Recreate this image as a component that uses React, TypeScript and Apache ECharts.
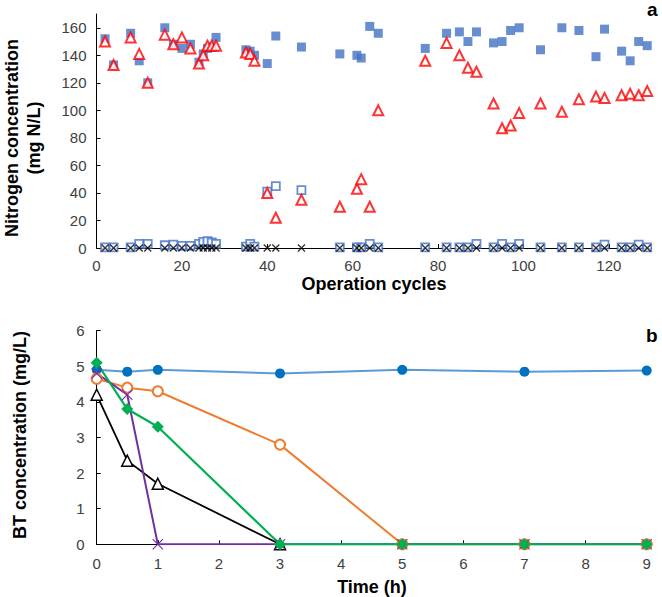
import React, { useEffect, useRef } from 'react';
import * as echarts from 'echarts';

// ---- Panel a: nitrogen over operation cycles ----
const cycles = [2, 4, 8, 10, 12, 16, 18, 20, 22, 24, 25, 26, 27, 28, 35, 36, 37, 40, 42, 48, 57, 61, 62, 64, 66, 77, 82, 85, 87, 89, 93, 95, 97, 99, 104, 109, 113, 117, 119, 123, 125, 127, 129];
const influentN = [152, 133, 156, 136, 120, 160, 148, 145, 148, 135, 141, 145, 146, 153, 144, 143, 140, 134, 154, 146, 141, 140, 138, 161, 156, 145, 156, 157, 150, 157, 149, 150, 158, 160, 144, 160, 158, 139, 159, 143, 136, 150, 147];
const effluentOpen = [0.5, 0.5, 0.5, 3, 3, 2, 2.5, 1.5, 1.5, 3, 4.5, 5, 4, 3, 1, 3, 1, 41, 45, 42, 0.5, 0.5, 0.5, 3, 0.5, 0.5, 0.5, 0.5, 0.5, 3, 0.5, 3, 0.5, 3, 0.5, 0.5, 0.5, 0.5, 2.5, 0.5, 0.5, 2.5, 0.5];
const effluentTri = [150, 133, 153, 141, 120, 155, 148, 153, 145, 134, 140, 147, 147, 147, 142, 141, 136, 40, 22, 35, 30, 43, 50, 30, 100, 136, 149, 140, 131, 128, 105, 87, 89, 98, 105, 99, 108, 110, 109, 111, 112, 111, 114];
const effluentX = [0, 0, 0, 0, 0, 0, 0, 0, 0, 0, 0, 0, 0, 0, 0, 0, 0, 0, 0, 0, 0, 0, 0, 0, 0, 0, 0, 0, 0, 0, 0, 0, 0, 0, 0, 0, 0, 0, 0, 0, 0, 0, 0];
const yTicksA = [0, 20, 40, 60, 80, 100, 120, 140, 160];
const xTicksA = [0, 20, 40, 60, 80, 100, 120];

// ---- Panel b: BT over time ----
const timeH = [0, 0.5, 1, 3, 5, 7, 9];
const btBlue = [4.9, 4.85, 4.9, 4.8, 4.9, 4.85, 4.88];
const btOrange = [4.65, 4.4, 4.3, 2.8, 0, 0, 0];
const btBlack = [4.2, 2.35, 1.7, 0];
const btPurple = [4.8, 4.2, 0, 0, 0, 0, 0];
const btGreen = [5.1, 3.8, 3.3, 0, 0, 0, 0];

const FONT = 'Arial, "Liberation Sans", sans-serif';
const X_BOLD = 'path://M0,1.2L1.2,0L5,3.8L8.8,0L10,1.2L6.2,5L10,8.8L8.8,10L5,6.2L1.2,10L0,8.8L3.8,5Z';
const X_THIN = 'path://M0,0.7L0.7,0L5,4.3L9.3,0L10,0.7L5.7,5L10,9.3L9.3,10L5,5.7L0.7,10L0,9.3L4.3,5Z';

const pairs = (xs: number[], ys: number[]) => ys.map((y, i) => [xs[i], y]);

export default function App() {
  const ref = useRef<HTMLDivElement>(null);
  useEffect(() => {
    document.body.style.margin = '0';
    if (!ref.current) return;
    const chart = echarts.init(ref.current, undefined, { renderer: 'svg' });
    const axisLine = { show: true, lineStyle: { color: '#000', width: 1 } };
    const tickLabel = { color: '#404040', fontSize: 15, fontFamily: FONT };
    chart.setOption({
      animation: false,
      backgroundColor: '#fff',
      grid: [
        { left: 96.5, top: 14, width: 555, height: 234 },
        { left: 96.7, top: 330.7, width: 550, height: 213.6 },
      ],
      xAxis: [
        {
          gridIndex: 0, type: 'value', min: 0, max: 130, interval: 20,
          axisLine, splitLine: { show: false },
          axisTick: { inside: true, length: 4, lineStyle: { color: '#000' }, customValues: xTicksA },
          axisLabel: { ...tickLabel, margin: 10, customValues: xTicksA },
        },
        {
          gridIndex: 1, type: 'value', min: 0, max: 9, interval: 1,
          axisLine, splitLine: { show: false },
          axisTick: { inside: true, length: 4, lineStyle: { color: '#000' } },
          axisLabel: { ...tickLabel, margin: 12 },
        },
      ],
      yAxis: [
        {
          gridIndex: 0, type: 'value', min: 0, max: 170, interval: 20,
          axisLine, splitLine: { show: false },
          axisTick: { show: true, inside: true, length: 4, lineStyle: { color: '#000' }, customValues: yTicksA },
          axisLabel: { ...tickLabel, margin: 10, customValues: yTicksA },
        },
        {
          gridIndex: 1, type: 'value', min: 0, max: 6, interval: 1,
          axisLine, splitLine: { show: false },
          axisTick: { show: true, inside: true, length: 4, lineStyle: { color: '#000' } },
          axisLabel: { ...tickLabel, margin: 12 },
        },
      ],
      series: [
        {
          type: 'scatter', xAxisIndex: 0, yAxisIndex: 0, symbol: 'rect', symbolSize: 9,
          itemStyle: { color: '#4472C4' }, data: pairs(cycles, influentN),
        },
        {
          type: 'scatter', xAxisIndex: 0, yAxisIndex: 0, symbol: 'rect', symbolSize: 8,
          itemStyle: { color: '#fff', borderColor: '#4472C4', borderWidth: 1.8 }, data: pairs(cycles, effluentOpen),
        },
        {
          type: 'scatter', xAxisIndex: 0, yAxisIndex: 0, symbol: 'triangle', symbolSize: 10,
          itemStyle: { color: '#fff', borderColor: '#FF0000', borderWidth: 2 }, data: pairs(cycles, effluentTri),
        },
        {
          type: 'scatter', xAxisIndex: 0, yAxisIndex: 0, symbol: X_BOLD, symbolSize: 8,
          itemStyle: { color: '#000' }, data: pairs(cycles, effluentX),
        },
        {
          type: 'line', xAxisIndex: 1, yAxisIndex: 1, symbol: 'circle', symbolSize: 10,
          lineStyle: { color: '#5B9BD5', width: 2 }, itemStyle: { color: '#0070C0' },
          data: pairs(timeH, btBlue),
        },
        {
          type: 'line', xAxisIndex: 1, yAxisIndex: 1, symbol: 'circle', symbolSize: 10,
          lineStyle: { color: '#ED7D31', width: 2 },
          itemStyle: { color: '#fff', borderColor: '#ED7D31', borderWidth: 2 },
          data: pairs(timeH, btOrange),
        },
        {
          type: 'line', xAxisIndex: 1, yAxisIndex: 1, symbol: 'triangle', symbolSize: 11,
          lineStyle: { color: '#000', width: 1.8 },
          itemStyle: { color: '#fff', borderColor: '#000', borderWidth: 1.5 },
          data: pairs(timeH, btBlack),
        },
        {
          type: 'line', xAxisIndex: 1, yAxisIndex: 1, symbol: X_THIN, symbolSize: 11,
          lineStyle: { color: '#7030A0', width: 2 }, itemStyle: { color: '#7030A0' },
          data: pairs(timeH, btPurple),
        },
        {
          type: 'line', xAxisIndex: 1, yAxisIndex: 1, symbol: 'diamond', symbolSize: 12,
          lineStyle: { color: '#00B050', width: 2.2 }, itemStyle: { color: '#00B050' },
          data: pairs(timeH, btGreen),
        },
      ],
      graphic: [
        { type: 'text', left: 647, top: 0, style: { text: 'a', font: `bold 19px ${FONT}`, fill: '#000' } },
        { type: 'text', left: 646, top: 326, style: { text: 'b', font: `bold 19px ${FONT}`, fill: '#000' } },
        {
          type: 'text', x: 374, y: 284,
          style: { text: 'Operation cycles', font: `bold 18px ${FONT}`, fill: '#000', align: 'center', verticalAlign: 'middle' },
        },
        {
          type: 'text', x: 372, y: 587,
          style: { text: 'Time (h)', font: `bold 18px ${FONT}`, fill: '#000', align: 'center', verticalAlign: 'middle' },
        },
        {
          type: 'text', x: 12, y: 138, rotation: Math.PI / 2,
          style: { text: 'Nitrogen concentration', font: `bold 18px ${FONT}`, fill: '#000', align: 'center', verticalAlign: 'middle' },
        },
        {
          type: 'text', x: 34, y: 138, rotation: Math.PI / 2,
          style: { text: '(mg N/L)', font: `bold 18px ${FONT}`, fill: '#000', align: 'center', verticalAlign: 'middle' },
        },
        {
          type: 'text', x: 20, y: 435, rotation: Math.PI / 2,
          style: { text: 'BT concentration (mg/L)', font: `bold 18px ${FONT}`, fill: '#000', align: 'center', verticalAlign: 'middle' },
        },
      ],
    });
    return () => chart.dispose();
  }, []);
  return <div ref={ref} style={{ width: 662, height: 597 }} />;
}
